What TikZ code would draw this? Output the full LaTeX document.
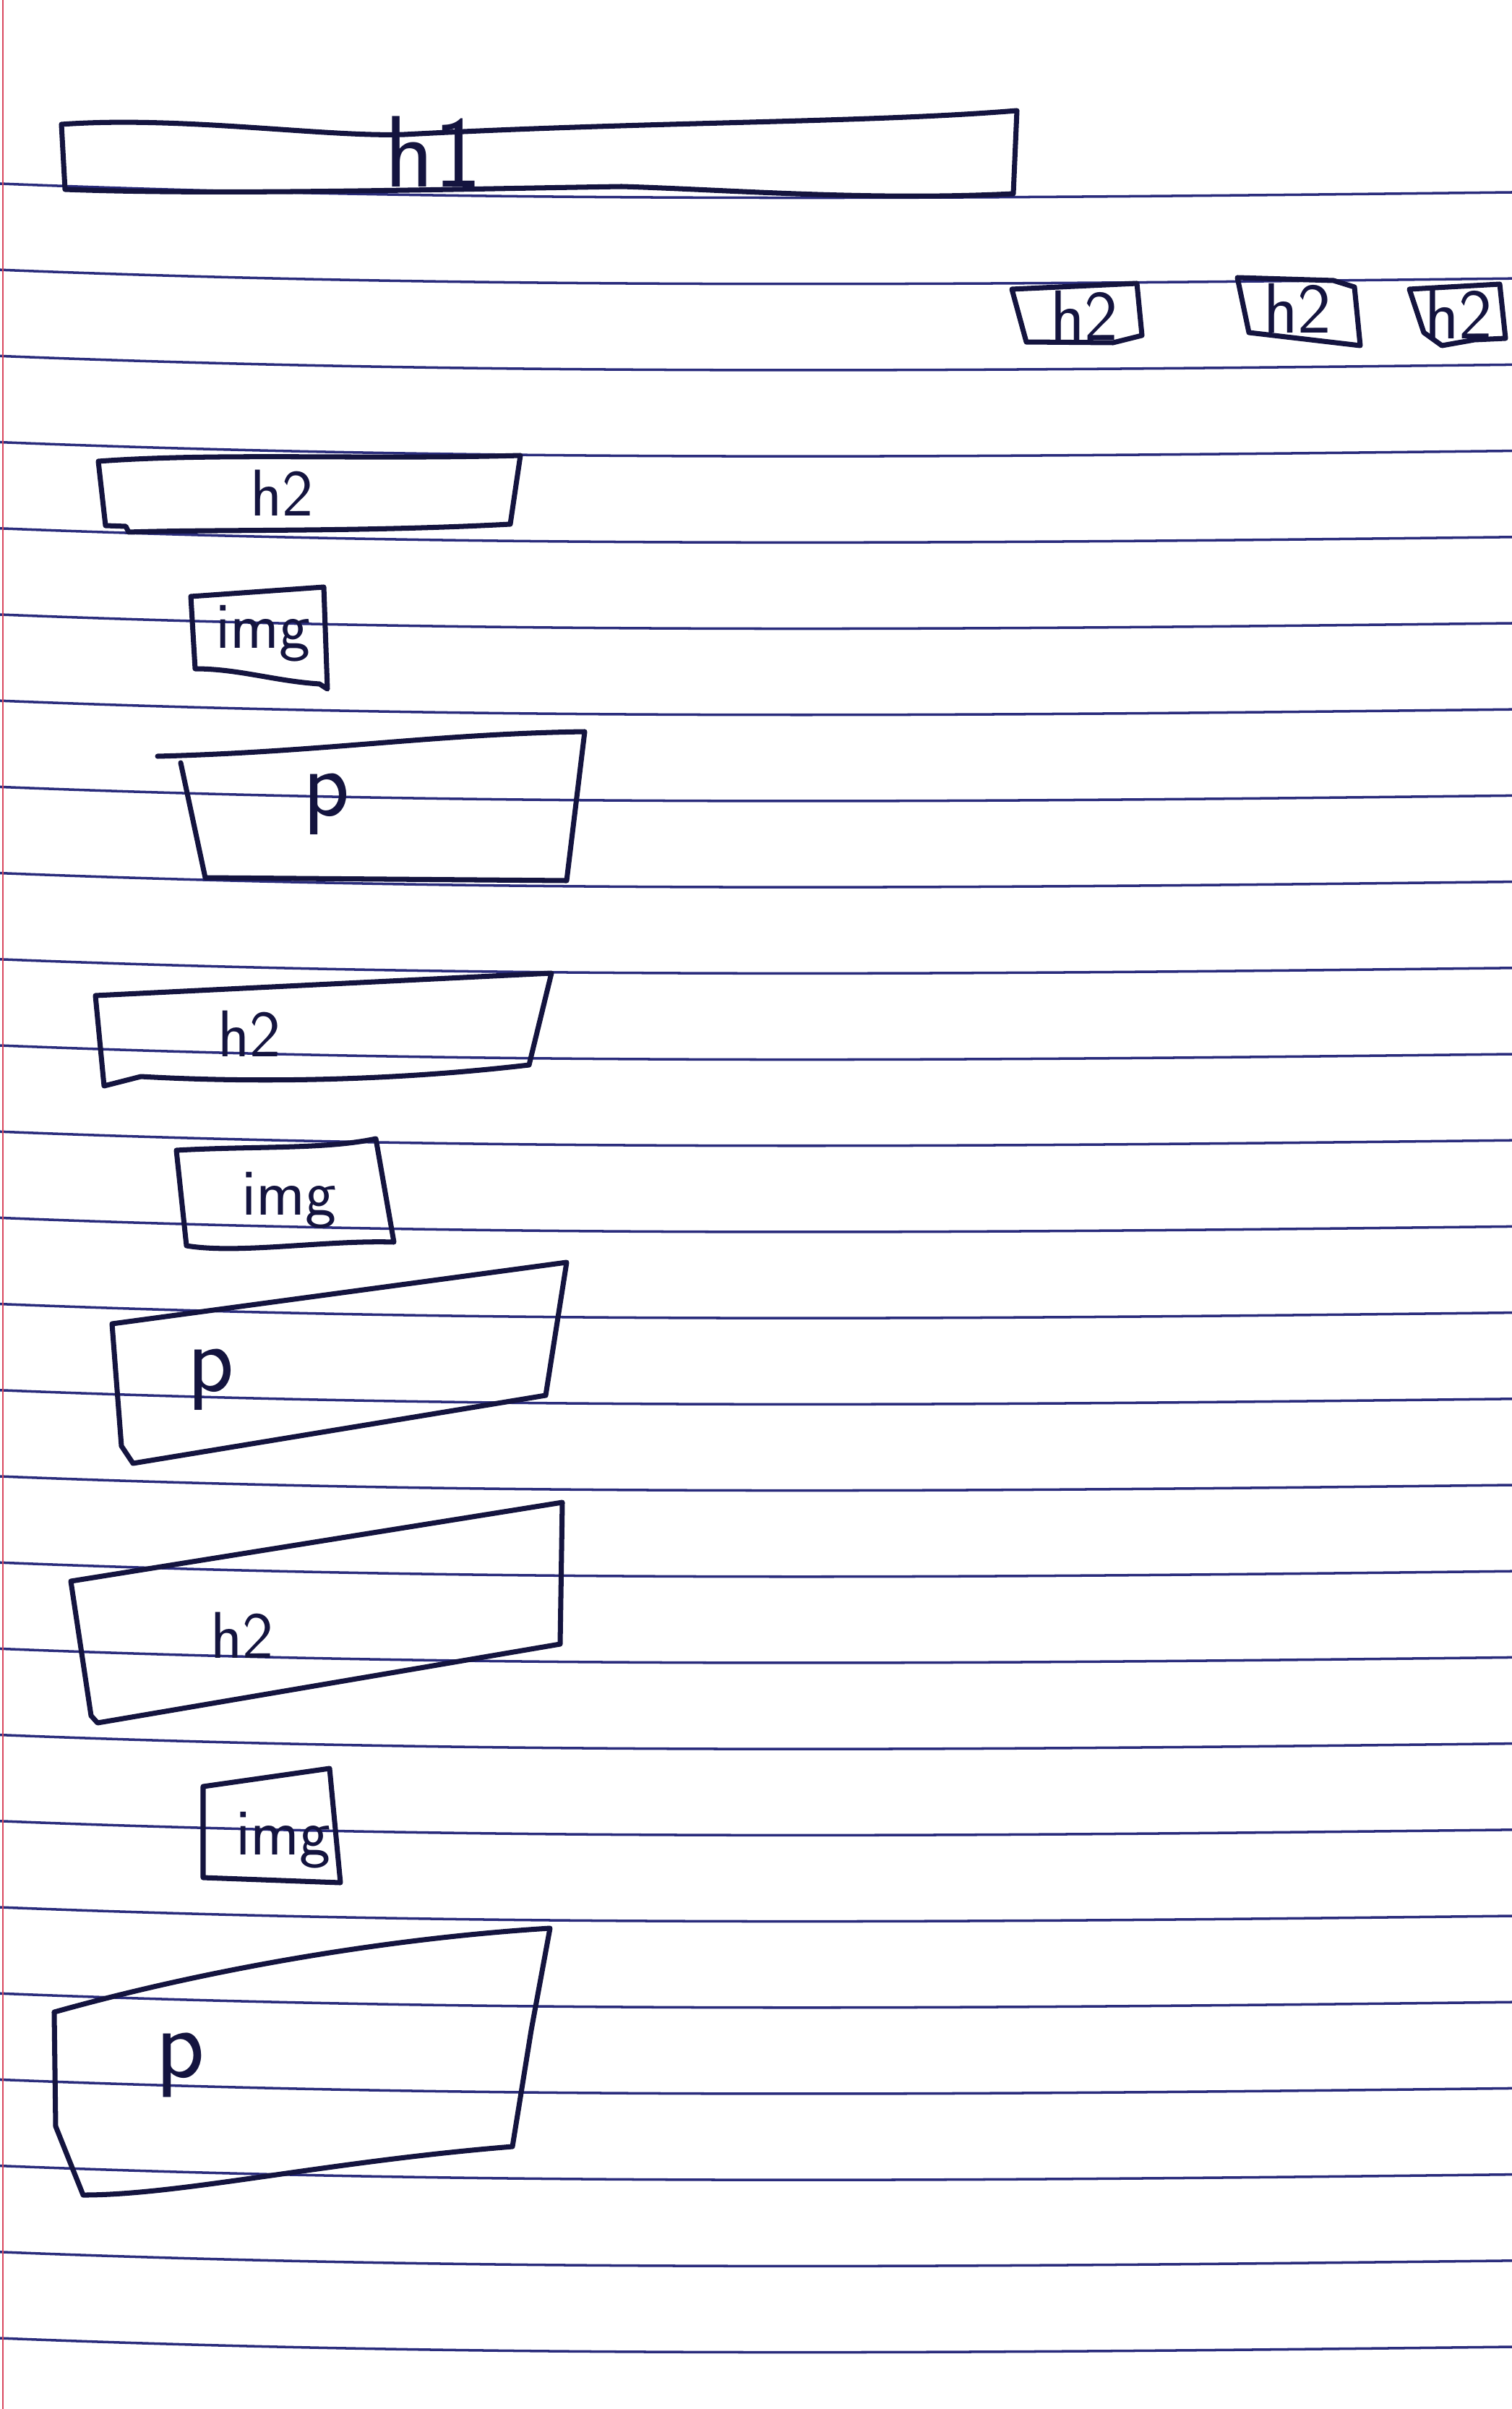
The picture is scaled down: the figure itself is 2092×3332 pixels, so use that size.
\documentclass[tikz,border=0pt]{standalone}
\definecolor{inkc}{HTML}{14143F}
\definecolor{rulec}{HTML}{2A2C7C}
\definecolor{marginc}{HTML}{D9485F}
\begin{document}
\begin{tikzpicture}[x=0.1mm,y=-0.1mm,
  ink/.style={draw=inkc, line width=2pt, line join=round, line cap=round},
  rule/.style={draw=rulec, line width=1pt},
  lbl/.style={text=inkc, inner sep=0pt, font=\sffamily\fontsize{#1}{#1}\selectfont},
  lbl/.default=26pt]
\fill[white] (0,0) rectangle (2092,3332);
\useasboundingbox (0,0) rectangle (2092,3332);
% ruled paper
\foreach \k in {0,...,25} {
  \pgfmathsetmacro\yy{254+\k*119.2}
  \draw[rule] (0,\yy) .. controls (700,\yy+28) and (1400,\yy+20) .. (2092,\yy+12);
}
\draw[draw=marginc, line width=0.8pt] (4,0) -- (4,3332);

% h1 bar
\draw[ink] (85,172) .. controls (250,160) and (450,190) .. (560,186)
  .. controls (900,168) and (1200,170) .. (1407,153) -- (1402,268)
  .. controls (1200,278) and (1000,262) .. (860,258)
  .. controls (600,262) and (300,270) .. (90,262) -- cycle;
\node[lbl=40pt] (h1) at (600,210) {h1};

% three small h2 boxes
\draw[ink] (1400,400) -- (1573,392) -- (1580,464) -- (1540,474) -- (1420,473) -- cycle;
\node[lbl=28pt] (h2a) at (1500,436) {h2};
\draw[ink] (1712,384) -- (1845,388) -- (1874,397) -- (1882,478) -- (1728,460) -- cycle;
\node[lbl=28pt] (h2b) at (1795,426) {h2};
\draw[ink] (1950,400) -- (2075,393) -- (2083,468) -- (2040,470) -- (1995,478) -- (1970,460) -- cycle;
\node[lbl=28pt] (h2c) at (2018,434) {h2};

% section 1
\draw[ink] (136,638) .. controls (300,626) and (500,636) .. (720,630) -- (706,725)
  .. controls (500,736) and (300,732) .. (178,736) -- (174,728) -- (146,727) -- cycle;
\node[lbl] (s1h) at (390,682) {h2};
\draw[ink] (264,825) -- (448,812) -- (453,953) -- (442,946)
  .. controls (380,942) and (330,925) .. (270,925) -- cycle;
\node[lbl] (s1i) at (364,876) {img};
\draw[ink] (218,1046) .. controls (450,1040) and (600,1015) .. (809,1012)
  -- (784,1218) -- (284,1214) -- (250,1055);
\node[lbl=38pt] (s1p) at (452,1112) {p};

% section 2
\draw[ink] (132,1377) -- (763,1346) -- (732,1473)
  .. controls (500,1500) and (300,1495) .. (195,1489) -- (144,1502) -- cycle;
\node[lbl] (s2h) at (345,1430) {h2};
\draw[ink] (244,1591) .. controls (350,1585) and (450,1590) .. (520,1575)
  -- (545,1718) .. controls (450,1715) and (330,1735) .. (258,1723) -- cycle;
\node[lbl] (s2i) at (400,1660) {img};
\draw[ink] (155,1831) -- (784,1746) -- (755,1930) -- (184,2024) -- (168,2000) -- cycle;
\node[lbl=38pt] (s2p) at (292,1908) {p};

% section 3
\draw[ink] (98,2187) -- (778,2078) -- (775,2274) -- (135,2383) -- (126,2373) -- cycle;
\node[lbl] (s3h) at (335,2262) {h2};
\draw[ink] (281,2471) -- (456,2446) -- (471,2604) -- (281,2597) -- cycle;
\node[lbl] (s3i) at (392,2545) {img};
\draw[ink] (75,2783) .. controls (300,2720) and (550,2680) .. (761,2667)
  -- (735,2808) -- (709,2969) .. controls (450,2990) and (250,3036) .. (115,3036)
  -- (77,2941) -- cycle;
\node[lbl=40pt] (s3p) at (250,2856) {p};
\end{tikzpicture}
\end{document}
